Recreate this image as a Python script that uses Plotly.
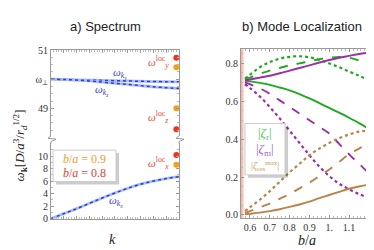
import plotly.graph_objects as go

# ---------------- data: panel a) spectrum ----------------
k_vals = [0, 0.1, 0.2, 0.3, 0.4, 0.5, 0.6, 0.7, 0.8, 0.9, 1.0]
omega_kx = [0, 0.8, 1.6, 2.45, 3.3, 4.1, 4.85, 5.5, 6.0, 6.4, 6.7]
omega_ky = [50.0, 49.99, 49.98, 49.97, 49.96, 49.95, 49.94, 49.93, 49.92, 49.915, 49.91]
omega_kz = [50.0, 49.99, 49.97, 49.94, 49.9, 49.86, 49.82, 49.78, 49.74, 49.71, 49.68]
dot_k = 0.98
loc_upper_09 = [50.41, 49.0]   # orange (b/a = 0.9): omega_y, omega_z
loc_upper_08 = [50.74, 48.28]  # red (b/a = 0.8)
loc_lower_09 = [8.6]           # omega_x
loc_lower_08 = [10.15]

# ---------------- data: panel b) mode localization ----------------
ba = [0.575, 0.6, 0.65, 0.7, 0.75, 0.8, 0.85, 0.9, 0.95, 1.0, 1.05, 1.1, 1.15, 1.2]
zr_solid = [0.708, 0.705, 0.697, 0.687, 0.673, 0.658, 0.638, 0.615, 0.59, 0.565, 0.54, 0.513, 0.485, 0.455]
zr_dash = [0.715, 0.725, 0.745, 0.762, 0.776, 0.79, 0.80, 0.812, 0.822, 0.83, 0.834, 0.83, 0.815, 0.79]
zr_dot = [0.72, 0.74, 0.78, 0.807, 0.825, 0.835, 0.838, 0.832, 0.818, 0.80, 0.78, 0.757, 0.735, 0.71]
zm_solid = [0.71, 0.715, 0.725, 0.735, 0.748, 0.762, 0.776, 0.79, 0.805, 0.818, 0.83, 0.84, 0.85, 0.857]
zm_dash = [0.70, 0.69, 0.668, 0.64, 0.605, 0.57, 0.535, 0.50, 0.465, 0.43, 0.375, 0.32, 0.27, 0.22]
zm_dot = [0.69, 0.67, 0.625, 0.57, 0.51, 0.445, 0.38, 0.315, 0.255, 0.205, 0.165, 0.135, 0.11, 0.09]
zres_solid = [0.003, 0.006, 0.012, 0.02, 0.03, 0.042, 0.055, 0.07, 0.088, 0.105, 0.122, 0.138, 0.15, 0.16]
zres_dash = [0.01, 0.02, 0.04, 0.06, 0.085, 0.11, 0.14, 0.17, 0.205, 0.24, 0.28, 0.32, 0.35, 0.38]
zres_dot = [0.02, 0.04, 0.08, 0.125, 0.175, 0.225, 0.27, 0.315, 0.35, 0.38, 0.405, 0.425, 0.44, 0.445]

x_ticks_b = [0.6, 0.7, 0.8, 0.9, 1.0, 1.1]
x_ticktext_b = ["0.6", "0.7", "0.8", "0.9", "1.", "1.1"]
y_ticks_b = [0.0, 0.2, 0.4, 0.6, 0.8]
y_ticktext_b = ["0.0", "0.2", "0.4", "0.6", "0.8"]

GREEN = "#1fa91f"
PURPLE = "#9a2fa8"
BROWN = "#b98349"
BLUE_D = "#2a3fd0"
BLUE_L = "#a8bcf4"
RED = "#f0321e"
ORANGE = "#f5a00f"
SERIF = "Liberation Serif"
SANS = "Liberation Sans"
AXC = "#9a9a9a"

fig = go.Figure()

# panel a lower (omega_kx)
fig.add_trace(go.Scatter(x=k_vals, y=omega_kx, mode="lines", line=dict(color=BLUE_L, width=2.8, shape="spline"),
                         xaxis="x", yaxis="y", hoverinfo="skip"))
fig.add_trace(go.Scatter(x=k_vals, y=omega_kx, mode="lines", line=dict(color=BLUE_D, width=1.5, dash="dot", shape="spline"),
                         xaxis="x", yaxis="y"))
for yy in (omega_ky, omega_kz):
    fig.add_trace(go.Scatter(x=k_vals, y=yy, mode="lines", line=dict(color=BLUE_L, width=2.8, shape="spline"),
                             xaxis="x2", yaxis="y2", hoverinfo="skip"))
    fig.add_trace(go.Scatter(x=k_vals, y=yy, mode="lines", line=dict(color=BLUE_D, width=1.5, dash="dot", shape="spline"),
                             xaxis="x2", yaxis="y2"))
fig.add_trace(go.Scatter(x=[dot_k] * 2, y=loc_upper_08, mode="markers", marker=dict(color=RED, size=6),
                         xaxis="x2", yaxis="y2"))
fig.add_trace(go.Scatter(x=[dot_k] * 2, y=loc_upper_09, mode="markers", marker=dict(color=ORANGE, size=6),
                         xaxis="x2", yaxis="y2"))
fig.add_trace(go.Scatter(x=[dot_k], y=loc_lower_08, mode="markers", marker=dict(color=RED, size=6),
                         xaxis="x", yaxis="y"))
fig.add_trace(go.Scatter(x=[dot_k], y=loc_lower_09, mode="markers", marker=dict(color=ORANGE, size=6),
                         xaxis="x", yaxis="y"))

# panel b
series_b = [
    (zr_solid, GREEN, "solid"), (zr_dash, GREEN, "dash"), (zr_dot, GREEN, "dot"),
    (zm_solid, PURPLE, "solid"), (zm_dash, PURPLE, "dash"), (zm_dot, PURPLE, "dot"),
    (zres_solid, BROWN, "solid"), (zres_dash, BROWN, "dash"), (zres_dot, BROWN, "dot"),
]
for yy, col, dash in series_b:
    fig.add_trace(go.Scatter(x=ba, y=yy, mode="lines",
                             line=dict(color=col, width=2.2 if dash == "dot" else 1.9, dash=dash, shape="spline"),
                             xaxis="x3", yaxis="y3"))

tickfont = dict(family=SERIF, size=10, color="#333")
common = dict(showgrid=False, zeroline=False, showline=True, linecolor=AXC, linewidth=1,
              ticks="inside", ticklen=3, tickcolor=AXC, tickfont=tickfont)
minor = dict(ticks="inside", ticklen=1.5, tickcolor="#bbbbbb")

fig.update_layout(
    width=374, height=250, margin=dict(l=0, r=0, t=0, b=0),
    paper_bgcolor="white", plot_bgcolor="white", showlegend=False,
    xaxis=dict(domain=[0.115, 0.457], range=[0, 1.0], anchor="y", showticklabels=False,
               mirror=False, minor=dict(nticks=5, **minor), dtick=0.1, **common),
    yaxis=dict(domain=[0.14, 0.456], range=[0, 12], anchor="x", tickvals=[0, 2, 4, 6, 8, 10],
               mirror="ticks", minor=dict(dtick=1, **minor), **common),
    xaxis2=dict(domain=[0.115, 0.457], range=[0, 1.0], anchor="y2", side="top", showticklabels=False,
                mirror=False, minor=dict(nticks=5, **minor), dtick=0.1, **common),
    yaxis2=dict(domain=[0.488, 0.848], range=[48.05, 51], anchor="x2", tickvals=[49, 50, 51],
                ticktext=["49", "ω<sub>⊥</sub>", "51"], mirror="ticks",
                minor=dict(dtick=0.25, **minor), **common),
    xaxis3=dict(domain=[0.623, 0.965], range=[0.555, 1.2], anchor="y3", tickvals=x_ticks_b,
                ticktext=x_ticktext_b, mirror="ticks", minor=dict(dtick=0.02, **minor), **common),
    yaxis3=dict(domain=[0.144, 0.852], range=[-0.015, 0.875], anchor="x3", tickvals=y_ticks_b,
                ticktext=y_ticktext_b, mirror="ticks", minor=dict(dtick=0.05, **minor), **common),
)

shapes = []
# red gradient band at left of panel b
nb = 10
for i in range(nb):
    x0 = 0.555 + i * 0.0022
    shapes.append(dict(type="rect", xref="x3", yref="y3 domain", x0=x0, x1=x0 + 0.0022, y0=0, y1=1,
                       line=dict(width=0), fillcolor="#ee7050", opacity=0.7 * (1 - i / nb) ** 1.5, layer="below"))


def px(x, y):
    return x / 374, 1 - y / 250


# break zig-zags on left and right edges of panel a
for xe in (43, 171):
    pts = [(xe, 136), (xe, 134), (xe + 5, 131.5), (xe - 3, 130.5), (xe, 128)]
    p = "M " + " L ".join(f"{px(a, b)[0]:.5f},{px(a, b)[1]:.5f}" for a, b in pts)
    shapes.append(dict(type="path", xref="paper", yref="paper", path=p, line=dict(color=AXC, width=1)))


def box(x0, y0, x1, y1):
    a0, b0 = px(x0, y0)
    a1, b1 = px(x1, y1)
    sa0, sb0 = px(x0 + 3, y0 + 3)
    sa1, sb1 = px(x1 + 3, y1 + 3)
    shapes.append(dict(type="rect", xref="paper", yref="paper", x0=sa0, x1=sa1, y0=sb1, y1=sb0,
                       line=dict(width=0), fillcolor="rgba(0,0,0,0.2)"))
    shapes.append(dict(type="rect", xref="paper", yref="paper", x0=a0, x1=a1, y0=b1, y1=b0,
                       line=dict(color="#cccccc", width=1), fillcolor="white"))


box(45, 143, 108, 176)
box(237, 115, 277, 169)
fig.update_layout(shapes=shapes)

ann = []


def text(x, y, s, color="#222", size=11, family=SERIF, xanchor="center", angle=0):
    a, b = px(x, y)
    ann.append(dict(x=a, y=b, xref="paper", yref="paper", text=s, showarrow=False, xanchor=xanchor,
                    yanchor="middle", textangle=angle, font=dict(family=family, size=size, color=color)))


text(97, 13, "a) Spectrum", size=13, family=SANS)
text(294, 13, "b) Mode Localization", size=13, family=SANS)
text(12, 138, "<i>ω</i><sub><b>k</b></sub>[<i>D</i>/<i>a</i><sup>3</sup>/<i>r</i><sub><i>d</i></sub><sup>1/2</sup>]",
     size=13, angle=-90)
text(104, 237, "<i>k</i>", size=14)
text(299, 238, "<i>b</i>/<i>a</i>", size=14)
text(112, 62, "<i>ω</i><sub><i>k<sub>y</sub></i></sub>", color="#3444c4", size=11)
text(94, 80, "<i>ω</i><sub><i>k<sub>z</sub></i></sub>", color="#3444c4", size=11)
text(108, 197, "<i>ω</i><sub><i>k<sub>x</sub></i></sub>", color="#3444c4", size=11)
text(150, 50, "<i>ω</i><sup>loc</sup><sub><i>y</i></sub>", color="#e84a38", size=11)
text(150, 108, "<i>ω</i><sup>loc</sup><sub><i>z</i></sub>", color="#e84a38", size=11)
text(150, 156, "<i>ω</i><sup>loc</sup><sub><i>x</i></sub>", color="#e84a38", size=11)
text(76, 152, "<i>b</i>/<i>a</i> = 0.9", color="#eaa030", size=12)
text(76, 167, "<i>b</i>/<i>a</i> = 0.8", color="#e04434", size=12)
text(257, 126, "|<i>ζ</i><sub>r</sub>|", color="#4fbf4f", size=13)
text(257, 142, "|<i>ζ</i><sub>m</sub>|", color="#9a66cc", size=13)
text(257, 160, "|<i>ζ</i><sub>res</sub><sup>max</sup>|", color="#c9a255", size=10)
fig.update_layout(annotations=ann)

fig.write_html("out.html")
